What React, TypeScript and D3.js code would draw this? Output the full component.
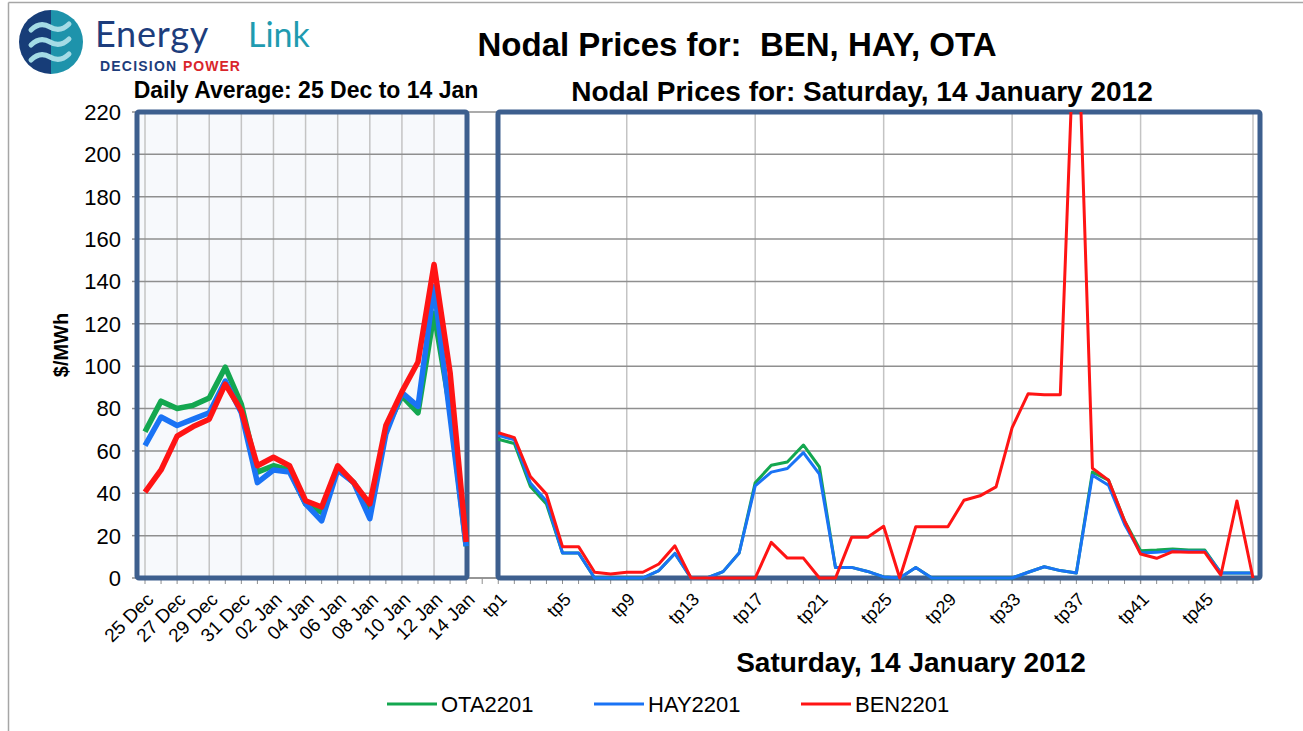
import * as d3 from 'd3';

const days = [
  '25 Dec', '26 Dec', '27 Dec', '28 Dec', '29 Dec', '30 Dec', '31 Dec',
  '01 Jan', '02 Jan', '03 Jan', '04 Jan', '05 Jan', '06 Jan', '07 Jan',
  '08 Jan', '09 Jan', '10 Jan', '11 Jan', '12 Jan', '13 Jan', '14 Jan',
];
const tps = [
  'tp1', 'tp2', 'tp3', 'tp4', 'tp5', 'tp6', 'tp7', 'tp8', 'tp9', 'tp10', 'tp11', 'tp12',
  'tp13', 'tp14', 'tp15', 'tp16', 'tp17', 'tp18', 'tp19', 'tp20', 'tp21', 'tp22', 'tp23', 'tp24',
  'tp25', 'tp26', 'tp27', 'tp28', 'tp29', 'tp30', 'tp31', 'tp32', 'tp33', 'tp34', 'tp35', 'tp36',
  'tp37', 'tp38', 'tp39', 'tp40', 'tp41', 'tp42', 'tp43', 'tp44', 'tp45', 'tp46', 'tp47', 'tp48',
];
const dayLabels = ['25 Dec', '27 Dec', '29 Dec', '31 Dec', '02 Jan', '04 Jan', '06 Jan', '08 Jan', '10 Jan', '12 Jan', '14 Jan'];
const tpLabels = ['tp1', 'tp5', 'tp9', 'tp13', 'tp17', 'tp21', 'tp25', 'tp29', 'tp33', 'tp37', 'tp41', 'tp45'];
const tpGrid = ['tp9', 'tp17', 'tp25', 'tp33', 'tp41', 'tp48'];
const yTicks = [0, 20, 40, 60, 80, 100, 120, 140, 160, 180, 200, 220];

// daily averages ($/MWh)
const otaDaily = [69, 83.5, 80, 81.5, 85, 99.5, 82, 50, 53, 51, 35, 31, 52, 45, 33, 70, 86, 78, 125, 80, 15];
const hayDaily = [62.5, 76, 72, 75, 78, 93, 78, 45, 51, 50, 35, 27, 51, 45, 28, 68, 87.5, 81, 137.5, 76, 15];
const benDaily = [40.5, 51, 67, 71.5, 75, 91.5, 79, 53, 57, 53, 36.5, 33.5, 53, 45, 35, 72, 88, 102, 148, 97, 17];

// trading periods, 14 Jan
const otaTp = [
  65.5, 63.5, 43.2, 34.9, 11.8, 11.8, 0, 0, 0, 0, 3.5, 11.6,
  0, 0, 3, 11.8, 45, 53.2, 54.8, 62.8, 52.4, 5, 5, 3.1,
  0.5, 0, 5, 0, 0, 0, 0, 0, 0, 2.7, 5.3, 3.5,
  2.4, 50, 46.2, 27, 12.9, 13.2, 13.7, 13.2, 13.2, 2.4, 2.4, 2.4,
];
const hayTp = [
  67.4, 65.2, 44.8, 36.4, 11.8, 11.8, 0, 0, 0, 0, 3.5, 11.6,
  0, 0, 3, 11.8, 43.5, 50, 51.7, 59.2, 49, 5, 5, 3.1,
  0.5, 0, 5, 0, 0, 0, 0, 0, 0, 2.7, 5.3, 3.5,
  2.4, 48.5, 43.8, 25.4, 11.8, 12.1, 12.9, 12.6, 12.6, 2.4, 2.4, 2.4,
];
const benTp = [
  68.6, 66.3, 47.9, 39.6, 14.8, 14.8, 2.7, 1.9, 2.7, 2.7, 6.6, 15.2,
  0, 0, 0, 0, 0, 16.8, 9.4, 9.4, 0, 0, 19.2, 19.2,
  24.4, 0, 24.2, 24.2, 24.2, 36.7, 38.8, 43, 71, 87, 86.5, 86.5,
  288, 51.8, 46.2, 27, 11.3, 9.3, 12.4, 12.1, 12.1, 1.4, 36.4, 0,
];

const GREEN = '#14a750';
const BLUE = '#1a73f5';
const RED = '#ff1414';
const FRAME = '#3d5f8e';
const FONT = '"Liberation Sans", Arial, sans-serif';

const series = [
  { name: 'OTA2201', color: GREEN, daily: otaDaily, tp: otaTp, lx: 387 },
  { name: 'HAY2201', color: BLUE, daily: hayDaily, tp: hayTp, lx: 594 },
  { name: 'BEN2201', color: RED, daily: benDaily, tp: benTp, lx: 801 },
];

export default function App() {
  const W = 1303;
  const H = 731;
  const cats = [...days, 'gap', ...tps];
  const x = d3.scalePoint<string>().domain(cats).range([145, 1253]);
  const y = d3.scaleLinear().domain([0, 220]).range([578, 112]);
  const top = y(220);
  const bot = y(0);

  const mkLine = (keys: string[]) =>
    d3.line<number>().x((_, i) => x(keys[i])!).y((d) => y(d));

  const lx0 = 137, lx1 = 467, rx0 = 498, rx1 = 1260;

  // logo geometry
  const cx = 51, cy = 42, r = 32;

  return (
    <svg width={W} height={H} style={{ position: 'absolute', left: 0, top: 0, display: 'block', background: '#fff' }}>
      <defs>
        <clipPath id="plotClip">
          <rect x={lx0} y={top} width={rx1 - lx0} height={bot - top + 4} />
        </clipPath>
      </defs>

      {/* outer border */}
      <line x1={8.5} y1={2.5} x2={W} y2={2.5} stroke="#a6a6a6" strokeWidth={1.5} />
      <line x1={8.5} y1={2.5} x2={8.5} y2={H} stroke="#a6a6a6" strokeWidth={1.5} />

      {/* logo */}
      <path d={`M${cx},${cy - r} A${r},${r} 0 0 0 ${cx},${cy + r} Z`} fill="#173d78" />
      <path d={`M${cx},${cy - r} A${r},${r} 0 0 1 ${cx},${cy + r} Z`} fill="#1e93ab" />
      {[-15, 0, 15].map((dy) => (
        <path
          key={dy}
          d={`M${cx - 20},${cy + dy + 3} q9,-9 19,-3 t19,-3`}
          fill="none"
          stroke="#a4dbe5"
          strokeWidth={5}
          strokeLinecap="round"
        />
      ))}
      <text x={95} y={47} fontFamily="Lato, sans-serif" fontSize={36} fill="#1d3d7c" letterSpacing={0.8}>Energy</text>
      <text x={248} y={47} fontFamily="Lato, sans-serif" fontSize={34} fill="#1f9bb0">Link</text>
      <text x={100} y={71} fontFamily={FONT} fontSize={14} fontWeight="bold" fill="#1d3d7c" letterSpacing={1.2}>DECISION</text>
      <text x={183} y={71} fontFamily={FONT} fontSize={14} fontWeight="bold" fill="#d9252b" letterSpacing={1}>POWER</text>

      {/* titles */}
      <text x={737} y={56} textAnchor="middle" fontFamily={FONT} fontSize={33} fontWeight="bold" fill="#000" style={{ whiteSpace: 'pre' }}>
        {'Nodal Prices for:  BEN, HAY, OTA'}
      </text>
      <text x={306} y={98} textAnchor="middle" fontFamily={FONT} fontSize={23} fontWeight="bold" fill="#000">
        Daily Average: 25 Dec to 14 Jan
      </text>
      <text x={862} y={101} textAnchor="middle" fontFamily={FONT} fontSize={28} fontWeight="bold" fill="#000">
        Nodal Prices for: Saturday, 14 January 2012
      </text>

      {/* left panel background */}
      <rect x={lx0} y={top} width={lx1 - lx0} height={bot - top} fill="#f7f9fc" />

      {/* vertical gridlines */}
      {days.filter((_, i) => i % 2 === 0).map((d) => (
        <line key={d} x1={x(d)} x2={x(d)} y1={top} y2={bot} stroke="#c4c4c4" strokeWidth={1.5} />
      ))}
      {tpGrid.map((d) => (
        <line key={d} x1={x(d)} x2={x(d)} y1={top} y2={bot + 6} stroke="#c4c4c4" strokeWidth={1.5} />
      ))}

      {/* horizontal gridlines */}
      {yTicks.map((t) => (
        <g key={t}>
          <line x1={lx0} x2={rx1} y1={y(t)} y2={y(t)} stroke="#8f8f8f" strokeWidth={1.5} />
          <line x1={132} x2={lx0} y1={y(t)} y2={y(t)} stroke="#8f8f8f" strokeWidth={1.5} />
          <text x={121} y={y(t)} dy="0.36em" textAnchor="end" fontFamily={FONT} fontSize={22} fill="#000">
            {t}
          </text>
        </g>
      ))}

      {/* x axis + ticks */}
      <line x1={lx0} x2={rx1} y1={bot} y2={bot} stroke="#8f8f8f" strokeWidth={1.5} />
      {cats.map((c) => (
        <line key={c} x1={x(c)} x2={x(c)} y1={bot} y2={bot + 6} stroke="#8f8f8f" strokeWidth={1} />
      ))}

      {/* frames */}
      <rect x={lx0} y={top} width={lx1 - lx0} height={bot - top} fill="none" stroke={FRAME} strokeWidth={5} rx={2} />
      <rect x={rx0} y={top} width={rx1 - rx0} height={bot - top} fill="none" stroke={FRAME} strokeWidth={5} rx={2} />

      {/* series */}
      <g clipPath="url(#plotClip)" fill="none" strokeLinejoin="round">
        {series.map((s) => (
          <path key={s.name + 'd'} d={mkLine(days)(s.daily)!} stroke={s.color} strokeWidth={5.5} />
        ))}
        {series.map((s) => (
          <path key={s.name + 't'} d={mkLine(tps)(s.tp)!} stroke={s.color} strokeWidth={3} />
        ))}
      </g>

      {/* x tick labels */}
      {dayLabels.map((d) => (
        <text
          key={d}
          transform={`translate(${x(d)! + 5},${bot + 18}) rotate(-45)`}
          textAnchor="end"
          dy="0.35em"
          fontFamily={FONT}
          fontSize={19}
          fill="#000"
        >
          {d}
        </text>
      ))}
      {tpLabels.map((d) => (
        <text
          key={d}
          transform={`translate(${x(d)! + 5},${bot + 18}) rotate(-45)`}
          textAnchor="end"
          dy="0.35em"
          fontFamily={FONT}
          fontSize={18}
          fill="#000"
        >
          {d}
        </text>
      ))}

      {/* axis titles */}
      <text transform={`translate(68,${(top + bot) / 2}) rotate(-90)`} textAnchor="middle" fontFamily={FONT} fontSize={20} fontWeight="bold" fill="#000">
        $/MWh
      </text>
      <text x={911} y={672} textAnchor="middle" fontFamily={FONT} fontSize={28} fontWeight="bold" fill="#000">
        Saturday, 14 January 2012
      </text>

      {/* legend */}
      {series.map((s) => (
        <g key={s.name}>
          <line x1={s.lx} x2={s.lx + 50} y1={704} y2={704} stroke={s.color} strokeWidth={3} />
          <text x={s.lx + 54} y={704} dy="0.36em" fontFamily={FONT} fontSize={22} fill="#000">
            {s.name}
          </text>
        </g>
      ))}
    </svg>
  );
}
